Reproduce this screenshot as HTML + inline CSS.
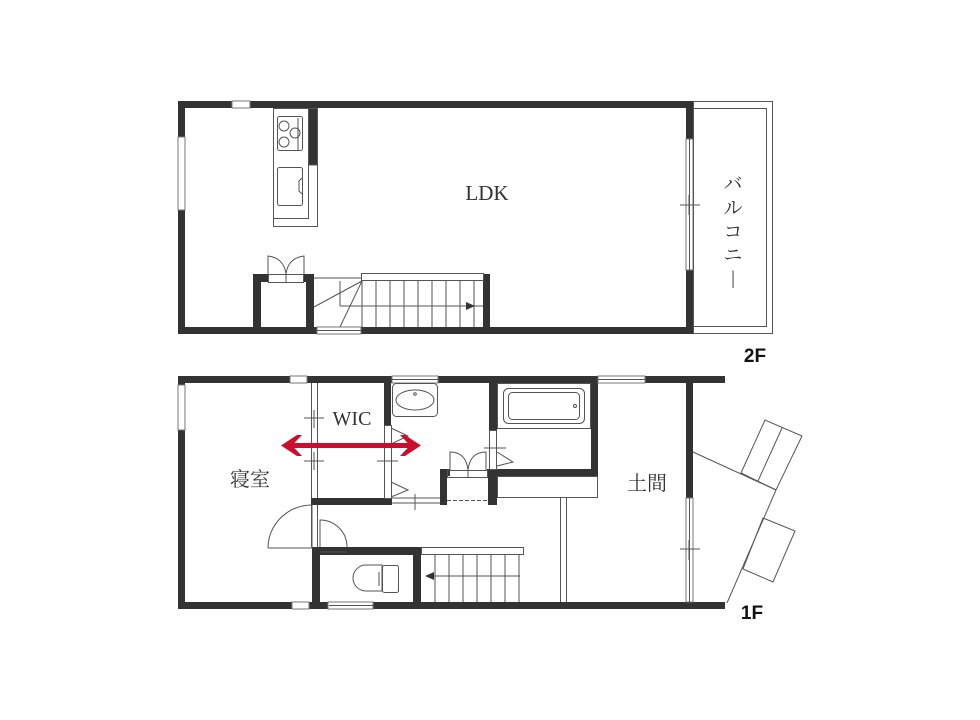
<!DOCTYPE html>
<html><head><meta charset="utf-8"><style>
html,body{margin:0;padding:0;background:#fff;width:980px;height:720px;overflow:hidden}
svg{display:block}
text{font-family:"Liberation Serif","Noto Serif CJK SC",serif;fill:#333}
</style></head><body>
<svg width="980" height="720" viewBox="0 0 980 720" xmlns="http://www.w3.org/2000/svg">
<g fill="#333">
<rect x="178" y="101" width="515" height="7"/>
<rect x="178" y="101" width="7" height="233"/>
<rect x="178" y="327" width="139" height="7"/>
<rect x="361" y="327" width="332" height="7"/>
<rect x="686" y="101" width="7" height="233"/>
<rect x="308" y="108" width="10" height="57"/>
<rect x="253" y="274" width="8" height="60"/>
<rect x="306" y="274" width="8" height="60"/>
<rect x="253" y="274" width="15" height="8"/>
<rect x="303" y="274" width="11" height="8"/>
<rect x="483" y="274" width="7" height="60"/>
<rect x="178" y="376" width="547" height="7"/>
<rect x="178" y="376" width="7" height="233"/>
<rect x="178" y="602" width="547" height="7"/>
<rect x="686" y="383" width="7" height="115"/>
<rect x="311" y="498" width="81" height="7"/>
<rect x="384" y="383" width="7" height="42"/>
<rect x="489" y="383" width="8" height="47"/>
<rect x="591" y="383" width="7" height="93"/>
<rect x="487" y="469" width="111" height="7"/>
<rect x="440" y="469" width="7" height="36"/>
<rect x="440" y="469" width="10" height="7"/>
<rect x="488" y="469" width="9" height="36"/>
<rect x="312" y="547" width="109" height="8"/>
<rect x="312" y="547" width="8" height="62"/>
<rect x="413" y="547" width="8" height="62"/>
</g>
<g fill="#fff" stroke="#777" stroke-width="1">
<rect x="232" y="101" width="18" height="7"/>
<rect x="178" y="137" width="7" height="73"/>
<rect x="686" y="139" width="7" height="131"/>
<rect x="317" y="327" width="44" height="7"/>
<rect x="290" y="376" width="17" height="7"/>
<rect x="392" y="376" width="46" height="7"/>
<rect x="598" y="376" width="47" height="7"/>
<rect x="178" y="385" width="7" height="45"/>
<rect x="292" y="602" width="17" height="7"/>
<rect x="328" y="602" width="45" height="7"/>
<rect x="686" y="498" width="7" height="104"/>
</g>
<g fill="none" stroke="#555" stroke-width="1">
<line x1="689.5" y1="139" x2="689.5" y2="270"/>
<line x1="680" y1="205" x2="700" y2="205"/><line x1="689" y1="195" x2="689" y2="215"/>
<line x1="689.5" y1="498" x2="689.5" y2="602"/>
<line x1="680" y1="549" x2="700" y2="549"/><line x1="689" y1="540" x2="689" y2="560"/>
<line x1="317" y1="330.5" x2="361" y2="330.5"/>
<line x1="392" y1="379.5" x2="438" y2="379.5"/>
<line x1="598" y1="379.5" x2="645" y2="379.5"/>
<line x1="329" y1="605.5" x2="373" y2="605.5"/>
<rect x="693.5" y="101.5" width="79" height="232"/>
<rect x="693.5" y="108.5" width="73" height="218"/>
<rect x="273.5" y="108.5" width="44" height="118"/>
<rect x="273.5" y="108.5" width="35" height="110"/>
<rect x="277.5" y="116.5" width="25" height="34" rx="2"/>
<circle cx="284" cy="126" r="5"/><circle cx="284" cy="142" r="5"/><circle cx="295" cy="133" r="5"/>
<line x1="298" y1="118" x2="298" y2="150"/>
<rect x="277.5" y="167.5" width="25" height="38" rx="2"/>
<path d="M302 178 l-3 3 v10 l3 3"/>
<line x1="308" y1="165" x2="318" y2="165"/>
<rect x="268.5" y="274.5" width="35" height="8"/>
<line x1="286" y1="274" x2="286" y2="282"/>
<path d="M268 274 V256 Q284 258 286 274 M304 274 V256 Q288 258 286 274"/>
<rect x="361.5" y="273.5" width="122" height="7" fill="#fff"/>
<line x1="314" y1="278" x2="361" y2="278"/>
<line x1="340" y1="281" x2="340" y2="306"/>
<line x1="340" y1="306" x2="483" y2="306"/>
<line x1="314" y1="307" x2="362" y2="281"/>
<line x1="340" y1="327" x2="362" y2="281"/>
<line x1="376" y1="281" x2="376" y2="327"/><line x1="390" y1="281" x2="390" y2="327"/>
<line x1="404" y1="281" x2="404" y2="327"/><line x1="418" y1="281" x2="418" y2="327"/>
<line x1="432" y1="281" x2="432" y2="327"/><line x1="446" y1="281" x2="446" y2="327"/>
<line x1="460" y1="281" x2="460" y2="327"/><line x1="474" y1="281" x2="474" y2="327"/>
<line x1="362" y1="281" x2="362" y2="327"/>
<line x1="311.5" y1="383" x2="311.5" y2="498"/>
<line x1="317.5" y1="383" x2="317.5" y2="498"/>
<line x1="304" y1="418" x2="324" y2="418"/><line x1="314" y1="410" x2="314" y2="428"/>
<line x1="304" y1="461" x2="324" y2="461"/><line x1="314" y1="452" x2="314" y2="470"/>
<rect x="384.5" y="425.5" width="7" height="73"/>
<line x1="377" y1="461" x2="398" y2="461"/>
<path d="M391 428 L408 436 L391 444 M391 482 L408 490 L391 497"/>
<line x1="392" y1="498" x2="440" y2="498"/><line x1="392" y1="503" x2="440" y2="503"/>
<line x1="415" y1="494" x2="415" y2="510"/>
<line x1="447" y1="500.5" x2="488" y2="500.5" stroke-dasharray="4 2"/>
<rect x="392.5" y="383.5" width="45" height="33" rx="4"/>
<ellipse cx="415" cy="400" rx="19" ry="10"/><circle cx="415" cy="394" r="1.3"/>
<rect x="497.5" y="383.5" width="93" height="45"/>
<rect x="503.5" y="388.5" width="81" height="35" rx="5"/>
<rect x="508.5" y="392.5" width="71" height="27" rx="4"/>
<circle cx="575" cy="406" r="1.5"/>
<rect x="489.5" y="430.5" width="7" height="39"/>
<line x1="484" y1="448" x2="506" y2="448"/>
<path d="M497 452 L513 462 L497 466"/>
<rect x="447.5" y="470.5" width="40" height="7"/>
<line x1="468" y1="470" x2="468" y2="477"/>
<path d="M450 470 V452 Q466 452 468 470 M486 470 V452 Q470 452 468 470"/>
<rect x="497.5" y="476.5" width="100" height="21"/>
<line x1="560.5" y1="498" x2="560.5" y2="602"/><line x1="566.5" y1="498" x2="566.5" y2="602"/>
<line x1="311.5" y1="505" x2="311.5" y2="547"/><line x1="317.5" y1="505" x2="317.5" y2="547"/>
<path d="M268 548 H312 V505 A44 43 0 0 0 268 548"/>
<path d="M320 547 V520 A27 27 0 0 1 347 547"/>
<line x1="320" y1="552" x2="347" y2="552"/>
<path d="M382 565 H366 A12 12 0 0 0 366 591 H382 Z"/>
<rect x="382.5" y="565.5" width="16" height="27" rx="2"/>
<line x1="379" y1="572" x2="379" y2="586"/>
<rect x="421.5" y="547.5" width="102" height="7" fill="#fff"/>
<line x1="426" y1="576" x2="520" y2="576"/>
<line x1="435" y1="555" x2="435" y2="602"/><line x1="449" y1="555" x2="449" y2="602"/>
<line x1="463" y1="555" x2="463" y2="602"/><line x1="477" y1="555" x2="477" y2="602"/>
<line x1="491" y1="555" x2="491" y2="602"/><line x1="505" y1="555" x2="505" y2="602"/>
<line x1="519" y1="555" x2="519" y2="602"/>
<line x1="693" y1="452" x2="776" y2="490"/>
<line x1="776" y1="490" x2="727" y2="603"/>
<polygon points="741,473 765,420 802,436 776,490"/>
<line x1="758" y1="481" x2="782" y2="428"/>
<polygon points="763,518 795,531 773,582 743,569"/>
</g>
<polygon points="466,302 475,306 466,310" fill="#333"/>
<polygon points="434,572 425,576 434,580" fill="#333"/>
<g fill="#c8102e">
<rect x="292" y="443" width="118" height="5"/>
<polygon points="281,445.5 297,435 302,435 292,445.5 302,456 297,456"/>
<polygon points="421,445.5 405,435 400,435 410,445.5 400,456 405,456"/>
</g>
<text x="487" y="200" font-size="21" text-anchor="middle">LDK</text>
<text x="352" y="425" font-size="20" text-anchor="middle">WIC</text>
<text x="250" y="486" font-size="20" text-anchor="middle">寝室</text>
<text x="647" y="490" font-size="20" text-anchor="middle">土間</text>
<g font-size="19" text-anchor="middle">
<text x="733" y="190">バ</text><text x="733" y="214">ル</text><text x="733" y="238">コ</text><text x="733" y="261">ニ</text><text x="733" y="284">|</text>
</g>
<text x="755" y="362" font-size="19" font-weight="bold" text-anchor="middle" style="font-family:'Liberation Sans',sans-serif;fill:#111">2F</text>
<text x="752" y="619" font-size="19" font-weight="bold" text-anchor="middle" style="font-family:'Liberation Sans',sans-serif;fill:#111">1F</text>
</svg>
</body></html>
